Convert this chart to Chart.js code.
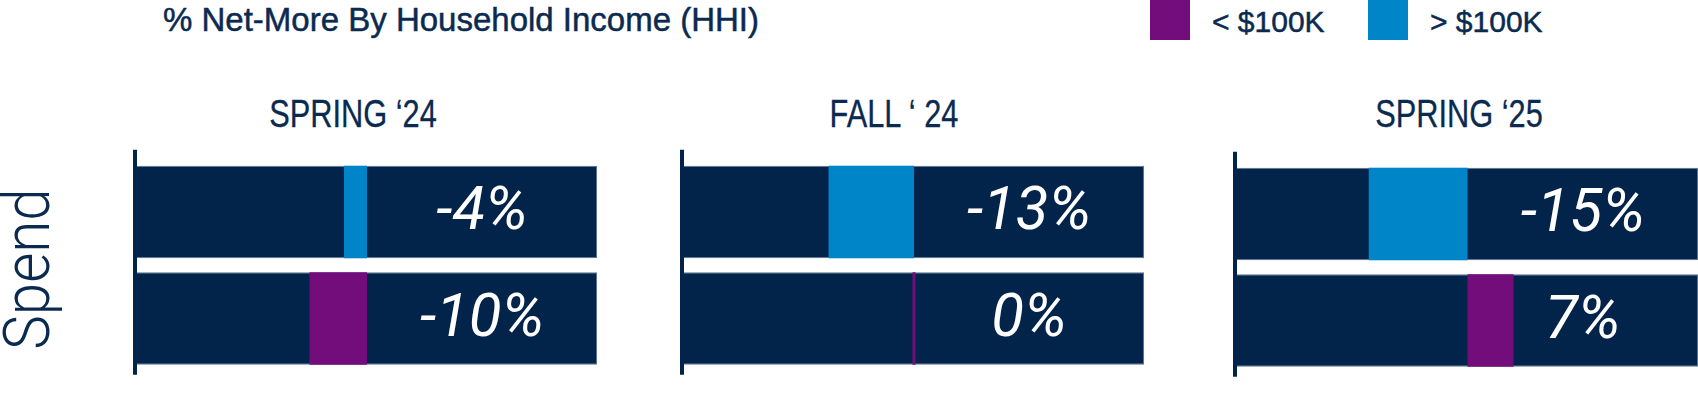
<!DOCTYPE html>
<html>
<head>
<meta charset="utf-8">
<script src="https://cdn.jsdelivr.net/npm/chart.js@4.4.0/dist/chart.umd.min.js"></script>
<style>
  body { margin: 0; background: #fff; }
  #wrap { position: relative; width: 1698px; height: 418px; overflow: hidden;
          font-family: "Liberation Sans", Arial, sans-serif; color: #0b2a50; }
  .abs { position: absolute; white-space: nowrap; }
  #title { left: 163px; top: 0; font-size: 33px; line-height: 40px; -webkit-text-stroke: 0.5px #0b2a50; }
  .swatch { top: 0; width: 40px; height: 40px; }
  .legtxt { top: 2px; font-size: 30px; line-height: 40px; -webkit-text-stroke: 0.5px #0b2a50; }
  .ptitle { top: 92px; width: 300px; text-align: center; font-size: 38px; line-height: 44px;
            transform: scaleX(0.81); transform-origin: center; -webkit-text-stroke: 0.3px #0b2a50; }
  #spend { left: 28px; top: 269px; font-size: 64px; line-height: 72px;
           transform: translate(-50%, -50%) rotate(-90deg) scaleX(0.91);
           font-family: Roboto, "Liberation Sans", sans-serif; font-weight: 300; }
  canvas { position: absolute; }
</style>
</head>
<body>
<div id="wrap">
  <div id="title" class="abs">% Net-More By Household Income (HHI)</div>
  <div class="abs swatch" style="left:1150px; background:#720d7b;"></div>
  <div class="abs legtxt" style="left:1212px;">&lt; $100K</div>
  <div class="abs swatch" style="left:1368px; background:#0085c9;"></div>
  <div class="abs legtxt" style="left:1430px;">&gt; $100K</div>
  <div id="spend" class="abs">Spend</div>
</div>
<script>
// データ
const panelTitles = ['SPRING ‘24', 'FALL ‘ 24', 'SPRING ‘25'];
const categories = ['> $100K', '< $100K'];
const over100k = [-4, -13, -15];   // 上の棒 (青)
const under100k = [-10, 0, 7];     // 下の棒 (紫)
const axisLimits = [40, 35, 35];   // 各パネルの x 軸の範囲 (±)

const NAVY = '#03244a';
const BLUE = '#0085c9';
const PURPLE = '#720d7b';

// パネルの配置
const layout = [
    { left: 120, width: 480, titleX: 353, pad: { left: 17, right: 3, top: 18.75, bottom: 8.25 } },
    { left: 667, width: 480, titleX: 894, pad: { left: 17, right: 3, top: 18.75, bottom: 8.25 } },
    { left: 1220, width: 478, titleX: 1459, pad: { left: 17, right: 0, top: 20.75, bottom: 6.25 } }
];

// 縦軸の線
const axisLinePlugin = {
    id: 'axisLine',
    afterDatasetsDraw(chart) {
        const { ctx, chartArea } = chart;
        ctx.save();
        ctx.fillStyle = NAVY;
        ctx.fillRect(chartArea.left - 4, chartArea.top - 9, 4, chartArea.bottom - chartArea.top + 12);
        ctx.restore();
    }
};

// 値ラベル (右半分の中央)
const valueLabelPlugin = {
    id: 'valueLabels',
    afterDatasetsDraw(chart) {
        const { ctx, chartArea } = chart;
        const xScale = chart.scales.x;
        const meta = chart.getDatasetMeta(0);
        const x = (xScale.getPixelForValue(0) + chartArea.right) / 2;
        ctx.save();
        ctx.fillStyle = '#ffffff';
        ctx.font = 'italic 400 60px Roboto, "Liberation Sans", sans-serif';
        ctx.textAlign = 'center';
        ctx.textBaseline = 'alphabetic';
        meta.data.forEach((bar, i) => {
            const v = chart.data.datasets[0].data[i];
            ctx.fillText(v + '%', x, bar.y + 17);
        });
        ctx.restore();
    }
};

const wrap = document.getElementById('wrap');

panelTitles.forEach((title, i) => {
    const L = layout[i];

    const t = document.createElement('div');
    t.className = 'abs ptitle';
    t.style.left = (L.titleX - 150) + 'px';
    t.textContent = title;
    wrap.appendChild(t);

    const canvas = document.createElement('canvas');
    canvas.width = L.width;
    canvas.height = 240;
    canvas.style.left = L.left + 'px';
    canvas.style.top = '140px';
    wrap.appendChild(canvas);

    const lim = axisLimits[i];
    new Chart(canvas.getContext('2d'), {
        type: 'bar',
        data: {
            labels: categories,
            datasets: [
                {
                    label: 'value',
                    data: [over100k[i], under100k[i]],
                    backgroundColor: [BLUE, PURPLE],
                    barPercentage: 0.87,
                    categoryPercentage: 1,
                    minBarLength: 3,
                    grouped: false,
                    order: 0
                },
                {
                    label: 'background',
                    data: categories.map(() => [-lim, lim]),
                    backgroundColor: NAVY,
                    borderColor: '#5d7392',
                    borderWidth: 1,
                    borderSkipped: 'left',
                    barPercentage: 0.87,
                    categoryPercentage: 1,
                    grouped: false,
                    order: 1
                }
            ]
        },
        options: {
            indexAxis: 'y',
            responsive: false,
            animation: false,
            layout: { padding: L.pad },
            scales: {
                x: { display: false, min: -lim, max: lim },
                y: { display: false }
            },
            plugins: {
                legend: { display: false },
                tooltip: { enabled: false }
            }
        },
        plugins: [axisLinePlugin, valueLabelPlugin]
    });
});
</script>
</body>
</html>
